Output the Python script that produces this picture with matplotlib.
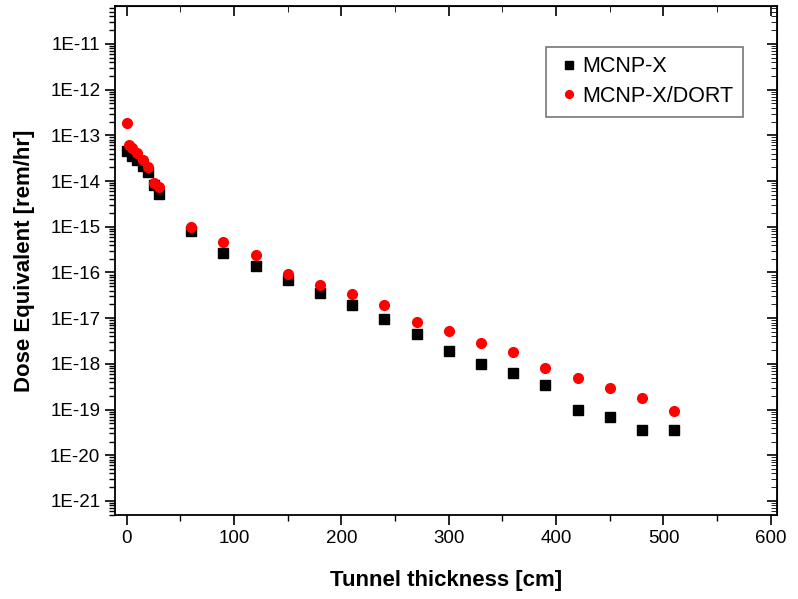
import matplotlib.pyplot as plt
import numpy as np
from matplotlib.ticker import LogLocator, MultipleLocator, FixedLocator

plt.rcParams['font.family'] = ['Liberation Sans', 'DejaVu Sans']

# MCNP-X (black squares)
x_mcnp = [0, 5, 10, 15, 20, 25, 30, 60, 90, 120, 150, 180, 210, 240, 270,
          300, 330, 360, 390, 420, 450, 480, 510]
y_mcnp = [4.6e-14, 3.5e-14, 2.9e-14, 2.1e-14, 1.6e-14, 8.3e-15, 5.3e-15,
          8.2e-16, 2.7e-16, 1.4e-16, 6.9e-17, 3.6e-17, 1.9e-17, 9.7e-18,
          4.6e-18, 1.9e-18, 1.0e-18, 6.2e-19, 3.5e-19, 1.0e-19, 7.0e-20,
          3.6e-20, 3.6e-20]

# MCNP-X/DORT (red circles)
x_dort = [0, 2, 5, 10, 15, 20, 25, 30, 60, 90, 120, 150, 180, 210, 240, 270,
          300, 330, 360, 390, 420, 450, 480, 510]
y_dort = [1.9e-13, 6.2e-14, 5.3e-14, 4.1e-14, 2.9e-14, 2.0e-14, 9.0e-15,
          7.5e-15, 1.0e-15, 4.7e-16, 2.4e-16, 9.4e-17, 5.4e-17, 3.3e-17,
          1.9e-17, 8.3e-18, 5.3e-18, 2.9e-18, 1.8e-18, 8.3e-19, 4.8e-19,
          3.0e-19, 1.8e-19, 9.5e-20]

ytick_vals = [10.0 ** e for e in range(-21, -10)]
ytick_labels = ['1E%d' % e for e in range(-21, -10)]

fig = plt.figure(figsize=(7.98, 5.99), dpi=100)
ax = fig.add_axes([0.144, 0.140, 0.830, 0.850])

ax.plot(x_mcnp, y_mcnp, 's', color='black', markersize=6.5, label='MCNP-X',
        linestyle='none')
ax.plot(x_dort, y_dort, 'o', color='red', markersize=7, label='MCNP-X/DORT',
        linestyle='none')

ax.set_yscale('log')
ax.set_xlim(-11, 606)
ax.set_ylim(10 ** -21.31, 10 ** -10.17)

ax.xaxis.set_major_locator(MultipleLocator(100))
ax.xaxis.set_minor_locator(MultipleLocator(50))
ax.yaxis.set_major_locator(FixedLocator(ytick_vals))
ax.set_yticklabels(ytick_labels)
ax.yaxis.set_minor_locator(LogLocator(base=10, subs=np.arange(2, 10), numticks=30))
ax.yaxis.set_minor_formatter(plt.NullFormatter())

ax.tick_params(which='both', direction='out', labelsize=13.5, colors='black')
ax.tick_params(which='major', length=7, width=1.2)
ax.tick_params(which='minor', length=4, width=1)
for s in ax.spines.values():
    s.set_linewidth(1.3)

# mirrored ticks on top and right, pointing inward
axt = ax.secondary_xaxis('top')
axt.xaxis.set_major_locator(MultipleLocator(100))
axt.xaxis.set_minor_locator(MultipleLocator(50))
axt.tick_params(which='both', direction='in', labeltop=False)
axt.tick_params(which='major', length=7, width=1.2)
axt.tick_params(which='minor', length=4)
axr = ax.secondary_yaxis('right')
axr.yaxis.set_major_locator(FixedLocator(ytick_vals))
axr.yaxis.set_minor_locator(LogLocator(base=10, subs=np.arange(2, 10), numticks=30))
axr.tick_params(which='both', direction='in', labelright=False)
axr.tick_params(which='major', length=7, width=1.2)
axr.tick_params(which='minor', length=4)

ax.set_xlabel('Tunnel thickness [cm]', fontsize=16, fontweight='bold', labelpad=17)
ax.set_ylabel('Dose Equivalent [rem/hr]', fontsize=16, fontweight='bold', labelpad=11)

leg = ax.legend(loc='upper right', bbox_to_anchor=(0.948, 0.92), fontsize=15.5,
                frameon=True, fancybox=False, edgecolor='#555555',
                handletextpad=0.0, handlelength=1.2, borderpad=0.45,
                borderaxespad=0, labelspacing=0.4, markerscale=0.8)
leg.get_frame().set_linewidth(1.2)

fig.savefig('out.png', dpi=100)
